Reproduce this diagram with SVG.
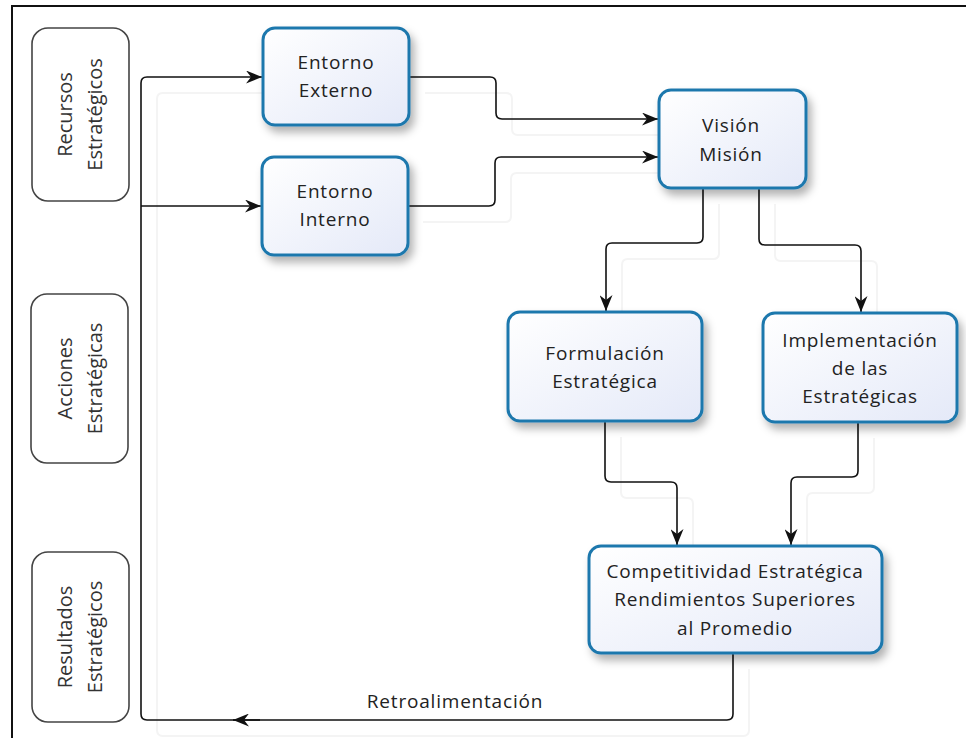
<svg xmlns="http://www.w3.org/2000/svg" width="966" height="738" viewBox="0 0 966 738">
<style>
  .frame{fill:none;stroke:#111;stroke-width:2}
  .side{fill:#fff;stroke:#444;stroke-width:1.6}
  .sidetxt{font-family:"Open Sans","Noto Sans",sans-serif;font-size:20px;fill:#333;text-anchor:middle}
  .box{fill:url(#bg);stroke:#1f78ad;stroke-width:3;filter:url(#sh)}
  .txt{font-family:"Open Sans","Noto Sans",sans-serif;font-size:19px;letter-spacing:0.8px;fill:#222;text-anchor:middle}
  .con{fill:none;stroke:#111;stroke-width:1.6}
  .ghost{fill:none;stroke:#f4f4f4;stroke-width:2}
</style>
<defs>
  <linearGradient id="bg" x1="0" y1="0" x2="1" y2="1">
    <stop offset="0" stop-color="#ffffff"/>
    <stop offset="1" stop-color="#e4e9f8"/>
  </linearGradient>
  <filter id="sh" x="-20%" y="-20%" width="150%" height="160%">
    <feDropShadow dx="4" dy="6" stdDeviation="4" flood-color="#000" flood-opacity="0.3"/>
  </filter>
  <marker id="ah" viewBox="0 0 16 13" markerWidth="16" markerHeight="13" refX="16" refY="6.5" orient="auto" markerUnits="userSpaceOnUse">
    <path d="M0,0 L16,6.5 L0,13 L5,6.5 Z" fill="#111"/>
  </marker>
</defs>
<rect width="966" height="738" fill="#fff"/>
<path class="frame" d="M12,738 V6 H966"/>

<g id="ghosts" class="ghost" transform="translate(16,16)">
  <path d="M733,653 V714 Q733,720 727,720 H147 Q141,720 141,714 V83 Q141,77 147,77 H262"/>
  <path d="M409,77 H490 Q496,77 496,83 V113 Q496,119 502,119 H658"/>
  <path d="M407,206 H489 Q495,206 495,200 V163 Q495,157 501,157 H658"/>
  <path d="M703,188 V237 Q703,243 697,243 H612 Q606,243 606,249 V312"/>
  <path d="M759,188 V239 Q759,245 765,245 H855 Q861,245 861,251 V313"/>
  <path d="M605,421 V476 Q605,482 611,482 H671 Q677,482 677,488 V546"/>
  <path d="M858,422 V471 Q858,477 852,477 H797 Q791,477 791,483 V546"/>
</g>

<g id="connectors" class="con">
  <path d="M733,653 V714 Q733,720 727,720 H147 Q141,720 141,714 V83 Q141,77 147,77 H262" marker-end="url(#ah)"/>
  <path d="M260,720 H233" marker-end="url(#ah)"/>
  <path d="M141,206 H261" marker-end="url(#ah)"/>
  <path d="M409,77 H490 Q496,77 496,83 V113 Q496,119 502,119 H658" marker-end="url(#ah)"/>
  <path d="M407,206 H489 Q495,206 495,200 V163 Q495,157 501,157 H658" marker-end="url(#ah)"/>
  <path d="M703,188 V237 Q703,243 697,243 H612 Q606,243 606,249 V311" marker-end="url(#ah)"/>
  <path d="M759,188 V239 Q759,245 765,245 H855 Q861,245 861,251 V312" marker-end="url(#ah)"/>
  <path d="M605,421 V476 Q605,482 611,482 H671 Q677,482 677,488 V545" marker-end="url(#ah)"/>
  <path d="M858,422 V471 Q858,477 852,477 H797 Q791,477 791,483 V545" marker-end="url(#ah)"/>
  <text x="455" y="708" style="font-family:'Open Sans','Noto Sans',sans-serif;font-size:19px;letter-spacing:0.8px;fill:#222;stroke:none;text-anchor:middle">Retroalimentación</text>
</g>

<g id="recursos">
  <rect class="side" x="32" y="28" width="97" height="173" rx="16"/>
  <text class="sidetxt" transform="translate(72,114.5) rotate(-90)">Recursos</text>
  <text class="sidetxt" transform="translate(102,114.5) rotate(-90)">Estratégicos</text>
</g>
<g id="acciones">
  <rect class="side" x="31" y="294" width="97" height="169" rx="16"/>
  <text class="sidetxt" transform="translate(72,378.5) rotate(-90)">Acciones</text>
  <text class="sidetxt" transform="translate(102,378.5) rotate(-90)">Estratégicas</text>
</g>
<g id="resultados">
  <rect class="side" x="32" y="552" width="97" height="170" rx="16"/>
  <text class="sidetxt" transform="translate(72,637) rotate(-90)">Resultados</text>
  <text class="sidetxt" transform="translate(102,637) rotate(-90)">Estratégicos</text>
</g>

<g id="externo">
  <rect class="box" x="263" y="28" width="146" height="97" rx="12"/>
  <text class="txt" x="336" y="69">Entorno</text>
  <text class="txt" x="336" y="97">Externo</text>
</g>
<g id="interno">
  <rect class="box" x="262" y="157" width="146" height="98" rx="12"/>
  <text class="txt" x="335" y="198">Entorno</text>
  <text class="txt" x="335" y="226">Interno</text>
</g>
<g id="vision">
  <rect class="box" x="659" y="90" width="147" height="98" rx="12"/>
  <text class="txt" x="731" y="132">Visión</text>
  <text class="txt" x="731" y="161">Misión</text>
</g>
<g id="formulacion">
  <rect class="box" x="508" y="312" width="194" height="109" rx="12"/>
  <text class="txt" x="605" y="360">Formulación</text>
  <text class="txt" x="605" y="388">Estratégica</text>
</g>
<g id="implementacion">
  <rect class="box" x="763" y="313" width="194" height="109" rx="12"/>
  <text class="txt" x="860" y="347">Implementación</text>
  <text class="txt" x="860" y="375">de las</text>
  <text class="txt" x="860" y="403">Estratégicas</text>
</g>
<g id="competitividad">
  <rect class="box" x="589" y="546" width="293" height="107" rx="12"/>
  <text class="txt" x="735" y="578">Competitividad Estratégica</text>
  <text class="txt" x="735" y="606">Rendimientos Superiores</text>
  <text class="txt" x="735" y="635">al Promedio</text>
</g>
</svg>
